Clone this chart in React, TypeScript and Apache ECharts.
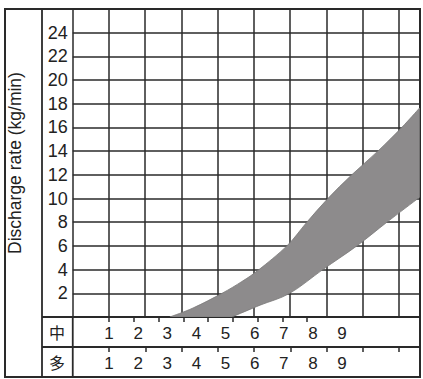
import React, { useEffect, useRef } from 'react';
import * as echarts from 'echarts';

// Scale labels shown in the two bottom rows
const scaleLabels = ['1', '2', '3', '4', '5', '6', '7', '8', '9'];
const rowNames = ['中', '多'];

// Upper (left) edge of the grey band, x in grid units, y in kg/min
const upperX = [2.68, 3.32, 4.12, 4.67, 5.14, 5.91, 6.46, 7.04, 7.7, 8.42, 9.08, 9.57];
const upperY = [0, 0.76, 2, 3, 4, 6, 8, 10, 12, 14, 16, 17.64];

// Lower (right) edge of the grey band
const lowerX = [4.39, 5.17, 5.99, 6.9, 7.84, 8.67, 9.57];
const lowerY = [0, 1, 2, 4, 6, 8, 10.1];

const yMin = 0;
const yMax = 26;
const yInterval = 2;
const xMin = 0;
const xMax = 9.57;
const xInterval = 1;

const yTitle = 'Discharge rate (kg/min)';

const FONT = '"Liberation Sans", Arial, Helvetica, sans-serif';
const CJK = '"Noto Sans CJK JP", "Noto Sans CJK SC", sans-serif';
const LINE = '#2a2a2a';

// Catmull-Rom curve through pixel points (drawing only)
function curveThrough(ctx: any, p: number[][], moveFirst: boolean) {
  if (moveFirst) ctx.moveTo(p[0][0], p[0][1]);
  else ctx.lineTo(p[0][0], p[0][1]);
  for (let i = 0; i < p.length - 1; i++) {
    const p0 = p[Math.max(0, i - 1)];
    const p1 = p[i];
    const p2 = p[i + 1];
    const p3 = p[Math.min(p.length - 1, i + 2)];
    const c1x = p1[0] + (p2[0] - p0[0]) / 6;
    const c1y = p1[1] + (p2[1] - p0[1]) / 6;
    const c2x = p2[0] - (p3[0] - p1[0]) / 6;
    const c2y = p2[1] - (p3[1] - p1[1]) / 6;
    ctx.bezierCurveTo(c1x, c1y, c2x, c2y, p2[0], p2[1]);
  }
}

const BandShape = (echarts.graphic as any).extendShape({
  shape: { upper: null, lower: null },
  buildPath(ctx: any, shape: any) {
    const up = shape.upper;
    const lo = shape.lower;
    if (!up || !lo || !up.length || !lo.length) return;
    curveThrough(ctx, up, true);
    curveThrough(ctx, lo.slice().reverse(), false);
    ctx.closePath();
  },
});
(echarts.graphic as any).registerShape('bandShape', BandShape);

export default function App() {
  const ref = useRef<HTMLDivElement>(null);

  useEffect(() => {
    const chart = echarts.init(ref.current!, null, { renderer: 'svg' });

    const labelAxis = (gridIndex: number) => ({
      gridIndex,
      type: 'category',
      data: scaleLabels,
      boundaryGap: false,
      axisLine: { show: false, onZero: false },
      axisTick: { show: false },
      splitLine: { show: false },
      axisLabel: {
        inside: true,
        interval: 0,
        margin: 14,
        verticalAlign: 'middle',
        fontSize: 17,
        fontFamily: FONT,
        color: '#222',
      },
    });

    // ticks hang down from the bottom edge of a thin grid placed just above each row
    const tickAxis = (gridIndex: number) => ({
      gridIndex,
      type: 'category',
      data: scaleLabels,
      boundaryGap: false,
      axisLine: { show: false, onZero: false },
      axisTick: {
        show: true,
        interval: 0,
        length: 5,
        lineStyle: { color: LINE, width: 1.5 },
      },
      splitLine: { show: false },
      axisLabel: { show: false },
    });

    const hiddenY = (gridIndex: number) => ({
      gridIndex,
      type: 'value',
      show: false,
    });

    const g = (left: number, top: number, width: number, height: number) => ({
      left,
      top,
      width,
      height,
      outerBoundsMode: 'none',
      containLabel: false,
    });

    const option: any = {
      animation: false,
      backgroundColor: '#fff',
      grid: [
        g(72.75, 9, 346.75, 308),
        g(109, 317, 233, 30),
        g(109, 300, 198, 17),
        g(109, 347, 233, 30),
        g(109, 330, 290, 17),
      ],
      xAxis: [
        {
          gridIndex: 0,
          type: 'value',
          min: xMin,
          max: xMax,
          interval: xInterval,
          axisLine: { show: false, onZero: false },
          axisTick: { show: false },
          axisLabel: { show: false },
          splitLine: { show: true, lineStyle: { color: LINE, width: 1.5 } },
        },
        labelAxis(1),
        tickAxis(2),
        labelAxis(3),
        tickAxis(4),
      ],
      yAxis: [
        {
          gridIndex: 0,
          type: 'value',
          min: yMin,
          max: yMax,
          interval: yInterval,
          name: yTitle,
          nameLocation: 'middle',
          nameGap: 49,
          nameTextStyle: { fontSize: 17.5, fontFamily: FONT, color: '#222' },
          axisLine: { show: false },
          axisTick: { show: false },
          axisLabel: {
            margin: 5,
            fontSize: 18,
            fontFamily: FONT,
            color: '#222',
            formatter: (v: number) => (v === yMin || v === yMax ? '' : String(v)),
          },
          splitLine: { show: true, lineStyle: { color: LINE, width: 1.5 } },
        },
        hiddenY(1),
        hiddenY(2),
        hiddenY(3),
        hiddenY(4),
      ],
      graphic: [
        {
          type: 'rect',
          shape: { x: 5, y: 9, width: 415, height: 368 },
          style: { fill: 'none', stroke: LINE, lineWidth: 2 },
        },
        { type: 'line', shape: { x1: 42, y1: 9, x2: 42, y2: 377 }, style: { stroke: LINE, lineWidth: 1.8 } },
        { type: 'line', shape: { x1: 72.75, y1: 317, x2: 72.75, y2: 377 }, style: { stroke: LINE, lineWidth: 1.8 } },
        { type: 'line', shape: { x1: 42, y1: 317, x2: 420, y2: 317 }, style: { stroke: LINE, lineWidth: 1.8 } },
        { type: 'line', shape: { x1: 42, y1: 347, x2: 420, y2: 347 }, style: { stroke: LINE, lineWidth: 1.8 } },
        {
          type: 'text',
          x: 57,
          y: 332,
          style: { text: rowNames[0], font: `16px ${CJK}`, fill: '#222', textAlign: 'center', textVerticalAlign: 'middle' },
        },
        {
          type: 'text',
          x: 57,
          y: 362,
          style: { text: rowNames[1], font: `16px ${CJK}`, fill: '#222', textAlign: 'center', textVerticalAlign: 'middle' },
        },
      ],
      series: [
        {
          type: 'custom',
          xAxisIndex: 0,
          yAxisIndex: 0,
          clip: true,
          data: [[0, 0]],
          renderItem: (_params: any, api: any) => {
            const up = upperX.map((x, i) => api.coord([x, upperY[i]]));
            const lo = lowerX.map((x, i) => api.coord([x, lowerY[i]]));
            return {
              type: 'bandShape',
              shape: { upper: up, lower: lo },
              style: { fill: '#8d8b8c', stroke: '#7a7879', lineWidth: 0.8 },
            };
          },
        },
      ],
    };

    chart.setOption(option);
    return () => chart.dispose();
  }, []);

  return (
    <div
      ref={ref}
      style={{ position: 'absolute', left: 0, top: 0, width: 423, height: 379 }}
    />
  );
}
